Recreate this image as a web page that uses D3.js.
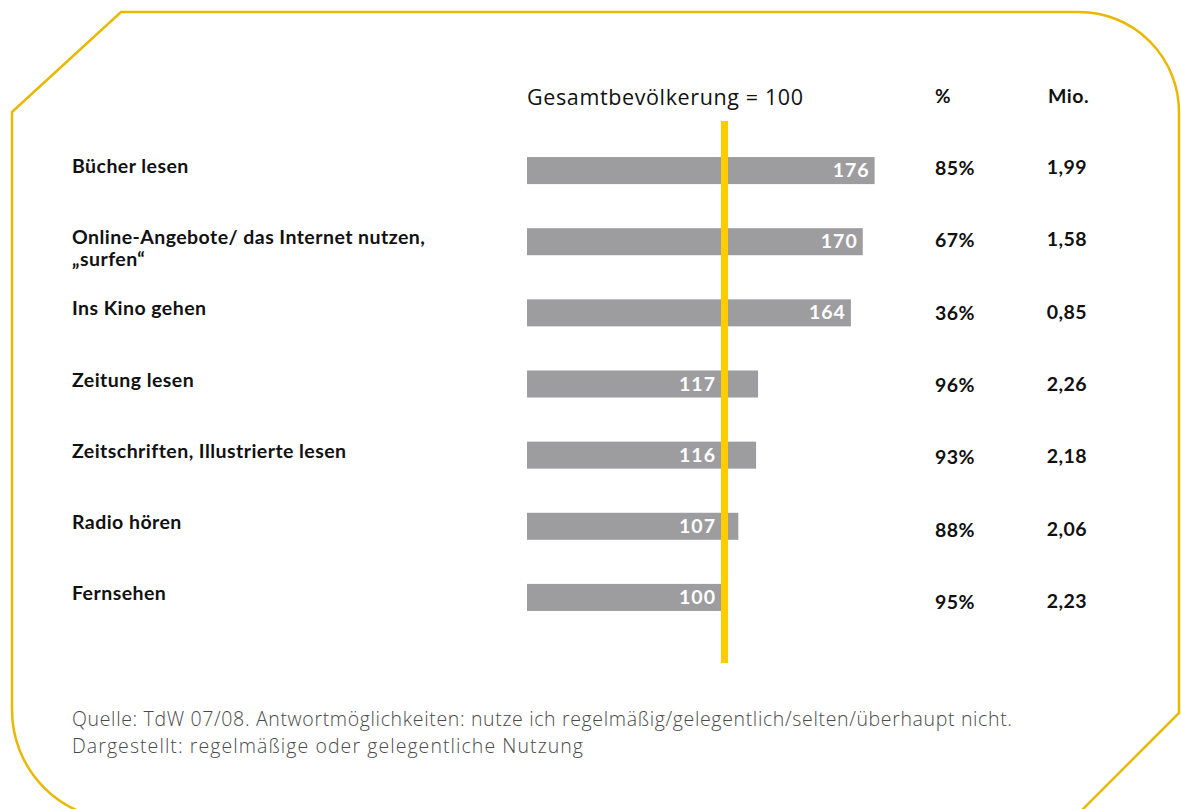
<!DOCTYPE html>
<html lang="de">
<head>
<meta charset="utf-8">
<title>Mediennutzung – Index</title>
<script src="https://cdn.jsdelivr.net/npm/d3@7"></script>
<style>
  html, body { margin: 0; padding: 0; background: #ffffff; }
  svg { display: block; }
  .lbl { font-family: "Lato", "Noto Sans", sans-serif; font-weight: 700; fill: #111; letter-spacing: 0.45px; }
  .head { font-family: "Open Sans", "Lato", sans-serif; font-weight: 400; fill: #111; }
  .foot { font-family: "Open Sans", "Liberation Sans", sans-serif; font-weight: 300; fill: #4a4a4a; }
</style>
</head>
<body>
<svg id="chart" width="1181" height="809"></svg>
<script>
// Activities (a line break marks a wrapped label)
const categories = [
  "Bücher lesen",
  "Online-Angebote/ das Internet nutzen,\n„surfen“",
  "Ins Kino gehen",
  "Zeitung lesen",
  "Zeitschriften, Illustrierte lesen",
  "Radio hören",
  "Fernsehen"
];
// Index relative to total population (= 100)
const indexValues = [176, 170, 164, 117, 116, 107, 100];
// Share of the group in percent
const shareValues = [85, 67, 36, 96, 93, 88, 95];
// Persons in millions
const millionValues = [1.99, 1.58, 0.85, 2.26, 2.18, 2.06, 2.23];
const referenceIndex = 100;

const headerIndex = "Gesamtbevölkerung = 100";
const headerShare = "%";
const headerMillions = "Mio.";
const footnotes = [
  "Quelle: TdW 07/08. Antwortmöglichkeiten: nutze ich regelmäßig/gelegentlich/selten/überhaupt nicht.",
  "Dargestellt: regelmäßige oder gelegentliche Nutzung"
];

const svg = d3.select("#chart");

// Frame: cut top-left and bottom-right corners, rounded top-right and bottom-left
svg.append("path")
  .attr("d", "M12,112 L121,12 L1079,12 A100,100 0 0 1 1179,112 L1179,713 L1072,820 L122,820 A110,110 0 0 1 12,710 Z")
  .attr("fill", "none")
  .attr("stroke", "#E9B800")
  .attr("stroke-width", 2.5);

const x = d3.scaleLinear().domain([0, referenceIndex]).range([527, 724.5]);
const y = d3.scaleBand().domain(categories).range([135, 633])
  .paddingInner(0.62).paddingOuter(0.31);
const rowText = d3.scalePoint().domain(categories).range([175, 609]);

const shareFmt = d => d + "%";
const millFmt = d => d3.format(".2f")(d).replace(".", ",");

const rows = categories.map((c, i) => ({
  cat: c, idx: indexValues[i], share: shareValues[i], mio: millionValues[i]
}));

// Column headers
svg.append("text").attr("class", "head")
  .attr("x", 527).attr("y", 105)
  .style("font-size", "21.5px")
  .attr("textLength", 276)
  .attr("lengthAdjust", "spacing")
  .text(headerIndex);
svg.append("text").attr("class", "lbl")
  .attr("x", 935).attr("y", 103)
  .style("font-size", "19px")
  .text(headerShare);
svg.append("text").attr("class", "lbl")
  .attr("x", 1089).attr("y", 103)
  .attr("text-anchor", "end")
  .style("font-size", "19.5px")
  .text(headerMillions);

// Category labels
const catText = svg.append("g").selectAll("text").data(rows).join("text")
  .attr("class", "lbl")
  .attr("x", 72)
  .attr("y", d => y(d.cat) + y.bandwidth() / 2 + 2.5)
  .style("font-size", "19.5px");
catText.each(function(d) {
  const lines = d.cat.split("\n");
  d3.select(this).selectAll("tspan").data(lines).join("tspan")
    .attr("x", 72)
    .attr("dy", (l, j) => j === 0 ? 0 : 22)
    .text(l => l);
});

// Bars
svg.append("g").selectAll("rect").data(rows).join("rect")
  .attr("x", x(0))
  .attr("y", d => y(d.cat))
  .attr("width", d => x(d.idx) - x(0))
  .attr("height", y.bandwidth())
  .attr("fill", "#9D9D9F");

// Reference line at index 100
const lineW = 7;
svg.append("line")
  .attr("x1", x(referenceIndex)).attr("x2", x(referenceIndex))
  .attr("y1", 121).attr("y2", 663)
  .attr("stroke", "#FFCC00")
  .attr("stroke-width", lineW);

// Index labels inside the bars; kept left of the reference line when the bar end is close to it
const valText = svg.append("g").selectAll("text").data(rows).join("text")
  .attr("class", "lbl")
  .attr("y", d => y(d.cat) + y.bandwidth() / 2 + 6.5)
  .attr("text-anchor", "end")
  .style("font-size", "19.5px")
  .style("letter-spacing", "1px")
  .style("fill", "#ffffff")
  .text(d => d.idx);
valText.attr("x", function(d) {
  const w = this.getComputedTextLength();
  const lineLeft = x(referenceIndex) - lineW / 2;
  const end = x(d.idx) - 5;
  return (end - w < lineLeft + lineW + 4) ? lineLeft - 5 : end;
});

// Share and millions columns
svg.append("g").selectAll("text").data(rows).join("text")
  .attr("class", "lbl")
  .attr("x", 935)
  .attr("y", d => rowText(d.cat))
  .style("font-size", "19.5px")
  .text(d => shareFmt(d.share));
svg.append("g").selectAll("text").data(rows).join("text")
  .attr("class", "lbl")
  .attr("x", 1087)
  .attr("y", d => rowText(d.cat) - 1)
  .attr("text-anchor", "end")
  .style("font-size", "19.5px")
  .text(d => millFmt(d.mio));

// Footnotes, stretched to the full text column
const footWidths = [940, 511];
svg.append("g").selectAll("text").data(footnotes).join("text")
  .attr("class", "foot")
  .attr("x", 72)
  .attr("y", (d, i) => 726 + i * 27)
  .style("font-size", "19.5px")
  .attr("textLength", (d, i) => footWidths[i])
  .attr("lengthAdjust", "spacing")
  .text(d => d);
</script>
</body>
</html>
